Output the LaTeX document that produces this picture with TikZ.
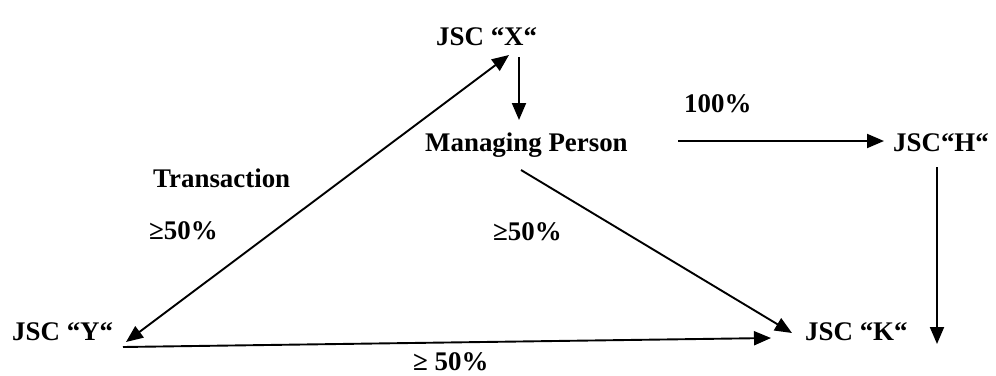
\documentclass[tikz,border=0pt]{standalone}
\usepackage{fontspec}
\setmainfont{Liberation Serif}
\usetikzlibrary{arrows.meta}
\begin{document}
\begin{tikzpicture}[x=1bp,y=-1bp,
  lbl/.style={anchor=base west,inner sep=0pt,font=\fontsize{27}{30}\selectfont\bfseries},
  tip/.tip={Triangle[length=17bp,width=14bp]},
  conn/.style={line width=1.9bp,-tip},
  bconn/.style={line width=1.9bp,tip-tip}]
\useasboundingbox (0,0) rectangle (996,375);
\node[lbl] (X) at (436,45) {JSC “X“};
\node[lbl] (MP) at (425,151) {Managing Person};
\node[lbl] (p100) at (684,112) {100\%};
\node[lbl] (H) at (893,151) {JSC“H“};
\node[lbl] (K) at (805,340) {JSC “K“};
\node[lbl] (Y) at (12,340) {JSC “Y“};
\node[lbl] (tr) at (153,187) {Transaction};
\node[lbl] (p50a) at (149,239) {≥50\%};
\node[lbl] (p50b) at (493,240) {≥50\%};
\node[lbl] (p50c) at (413,370) {≥ 50\%};
\coordinate (xs) at (519,57);
\coordinate (xe) at (519,120);
\coordinate (ms) at (678,141);
\coordinate (me) at (884,141);
\coordinate (hs) at (937,167);
\coordinate (he) at (937,344);
\coordinate (ds) at (521,170);
\coordinate (de) at (792,333);
\coordinate (ya) at (126,342);
\coordinate (xa) at (509,55);
\coordinate (bs) at (123,347);
\coordinate (be) at (771,338);
\draw[conn] (xs) -- (xe);
\draw[conn] (ms) -- (me);
\draw[conn] (hs) -- (he);
\draw[conn] (ds) -- (de);
\draw[bconn] (ya) -- (xa);
\draw[conn] (bs) -- (be);
\end{tikzpicture}
\end{document}
